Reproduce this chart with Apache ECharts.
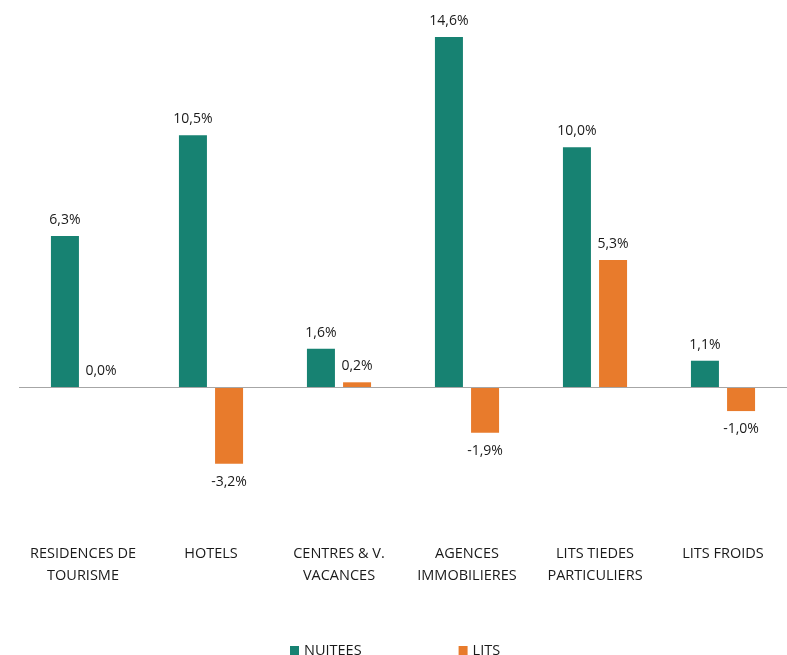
<!DOCTYPE html>
<html>
<head>
<meta charset="utf-8">
<script src="https://cdn.jsdelivr.net/npm/echarts@6/dist/echarts.min.js"></script>
<style>
html,body{margin:0;padding:0;background:#fff;}
#chart{width:787px;height:655px;}
</style>
</head>
<body>
<div id="chart"></div>
<script>
// Évolution par type d'hébergement
const categories = ['RESIDENCES DE\nTOURISME', 'HOTELS', 'CENTRES & V.\nVACANCES', 'AGENCES\nIMMOBILIERES', 'LITS TIEDES\nPARTICULIERS', 'LITS FROIDS'];
const nuitees = [6.3, 10.5, 1.6, 14.6, 10.0, 1.1];
const lits = [0.0, -3.2, 0.2, -1.9, 5.3, -1.0];

const FONT = '"Open Sans", "Noto Sans", sans-serif';
const TEXT = '#1a1a1a';
const fmt = v => v.toFixed(1).replace('.', ',') + '%';

function withLabels(values) {
  return values.map(v => ({
    value: v,
    label: { position: v < 0 ? 'bottom' : 'top', distance: v < 0 ? 11 : 9 }
  }));
}

const chart = echarts.init(document.getElementById('chart'));
chart.setOption({
  animation: false,
  backgroundColor: '#ffffff',
  textStyle: { fontFamily: FONT },
  grid: { left: 19, right: 0, top: 3.5, bottom: 172 },
  legend: {
    data: ['NUITEES', 'LITS'],
    left: 285,
    top: 638,
    itemWidth: 9,
    itemHeight: 9,
    itemGap: 97,
    icon: 'rect',
    textStyle: { fontFamily: FONT, fontSize: 14.5, color: TEXT }
  },
  xAxis: {
    type: 'category',
    data: categories,
    axisLine: { show: false },
    axisTick: { show: false },
    axisLabel: {
      margin: 60,
      fontFamily: FONT,
      fontSize: 14.5,
      color: TEXT,
      lineHeight: 22,
      interval: 0
    }
  },
  yAxis: {
    type: 'value',
    min: -4,
    max: 16,
    show: false,
    splitLine: { show: false }
  },
  series: [
    {
      name: 'NUITEES',
      type: 'bar',
      data: withLabels(nuitees),
      barWidth: 28,
      barGap: '29%',
      itemStyle: { color: '#178272' },
      label: {
        show: true,
        fontFamily: FONT,
        fontSize: 14,
        color: TEXT,
        formatter: p => fmt(p.value)
      },
      markLine: {
        silent: true,
        symbol: 'none',
        label: { show: false },
        lineStyle: { color: '#a6a6a6', width: 1, type: 'solid' },
        data: [{ yAxis: 0 }]
      }
    },
    {
      name: 'LITS',
      type: 'bar',
      data: withLabels(lits),
      barWidth: 28,
      itemStyle: { color: '#e87b2c' },
      label: {
        show: true,
        fontFamily: FONT,
        fontSize: 14,
        color: TEXT,
        formatter: p => fmt(p.value)
      }
    }
  ]
});
</script>
</body>
</html>
